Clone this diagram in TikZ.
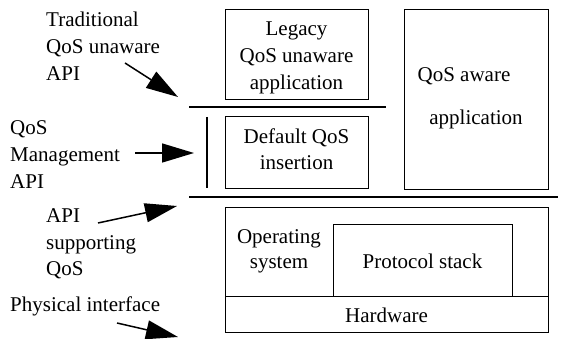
\documentclass[tikz,border=0pt]{standalone}
\usepackage{fontspec}
\setmainfont{Liberation Serif}
\usetikzlibrary{arrows.meta}
\begin{document}
\begin{tikzpicture}[x=1pt,y=-1pt,
  every node/.style={inner sep=0pt,font=\fontsize{21}{27}\selectfont},
  box/.style={draw,line width=0.9pt},
  sep/.style={line width=1.8pt},
  pointer/.style={line width=1.5pt,-{Triangle[length=32pt,width=19pt]}}]
\useasboundingbox (0,0) rectangle (563,339);
\clip (0,0) rectangle (563,339);

% application boxes
\draw[box] (225,9) rectangle (368,99);
\node[anchor=base] (leg1) at (296.5,36) {Legacy};
\node[anchor=base] (leg2) at (296.5,63) {QoS unaware};
\node[anchor=base] (leg3) at (296.5,90) {application};

\draw[box] (225,116) rectangle (368,188);
\node[anchor=base] (def1) at (296.5,144) {Default QoS};
\node[anchor=base] (def2) at (296.5,170) {insertion};

\draw[box] (404,9) rectangle (548,189);
\node[anchor=base] (aw1) at (464,82) {QoS aware};
\node[anchor=base] (aw2) at (476,125) {application};

% interface separators
\draw[sep] (189,107) -- (386,107);
\draw[sep] (207,117) -- (207,188);
\draw[sep] (189,197) -- (558,197);

% system layers
\draw[box] (225,207) rectangle (548,332);
\draw[box] (225,296) -- (548,296);
\draw[box] (333,224) rectangle (512,296);
\node[anchor=base] (os1) at (279,244) {Operating};
\node[anchor=base] (os2) at (279,269) {system};
\node[anchor=base] (ps) at (422.5,269) {Protocol stack};
\node[anchor=base] (hw) at (386.5,323) {Hardware};

% side labels
\node[anchor=base west] (tr1) at (46,27) {Traditional};
\node[anchor=base west] (tr2) at (46,54) {QoS unaware};
\node[anchor=base west] (tr3) at (46,81) {API};

\node[anchor=base west] (mg1) at (10,135) {QoS};
\node[anchor=base west] (mg2) at (10,162) {Management};
\node[anchor=base west] (mg3) at (10,189) {API};

\node[anchor=base west] (su1) at (46,223) {API};
\node[anchor=base west] (su2) at (46,250) {supporting};
\node[anchor=base west] (su3) at (46,276) {QoS};

\node[anchor=base west] (ph) at (10,312) {Physical interface};

% pointers
\coordinate (p1s) at (125,63);  \coordinate (p1e) at (178,97);
\coordinate (p2s) at (135,153); \coordinate (p2e) at (194,153);
\coordinate (p3s) at (98,223);  \coordinate (p3e) at (177,206);
\coordinate (p4s) at (117,323); \coordinate (p4e) at (178,337);
\draw[pointer] (p1s) -- (p1e);
\draw[pointer] (p2s) -- (p2e);
\draw[pointer] (p3s) -- (p3e);
\draw[pointer] (p4s) -- (p4e);
\end{tikzpicture}
\end{document}
